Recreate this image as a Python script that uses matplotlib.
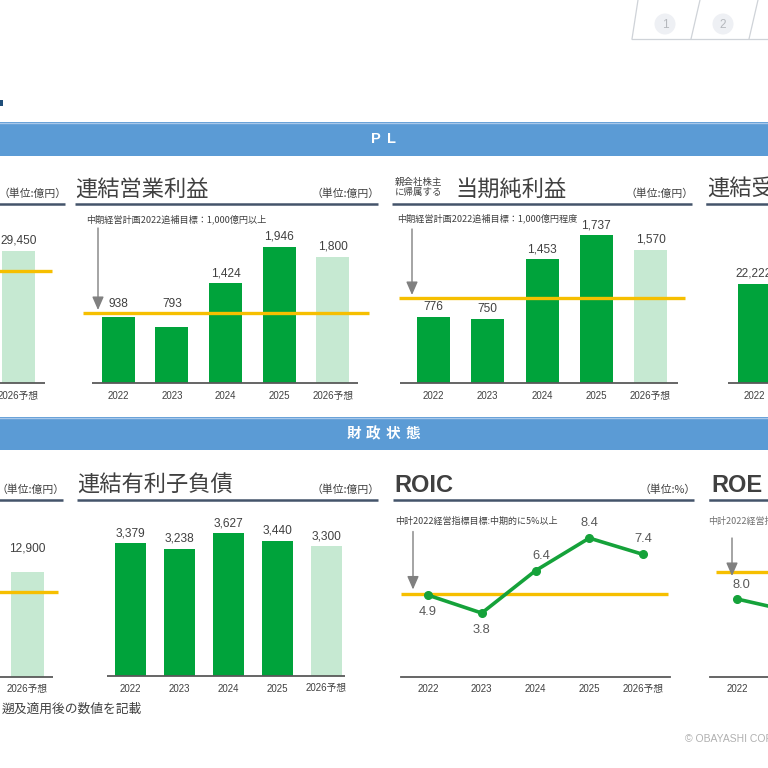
import matplotlib
matplotlib.use('Agg')
import matplotlib.pyplot as plt
from matplotlib.patches import Rectangle, Circle

# ---------------- data ----------------
years = ['2022', '2023', '2024', '2025', '2026予想']
is_forecast = [False, False, False, False, True]

revenue_cats = ['2026予想']
revenue_vals = [29450]
revenue_target = 25000

op_income = [938, 793, 1424, 1946, 1800]
op_target = 1000

net_income = [776, 750, 1453, 1737, 1570]
net_target = 1000

orders_cats = ['2022']
orders_vals = [22222]

equity_cats = ['2026予想']
equity_vals = [12900]
equity_target = 10500

debt = [3379, 3238, 3627, 3440, 3300]

roic = [4.9, 3.8, 6.4, 8.4, 7.4]
roic_target = 5.0

roe_cats = ['2022', '2023']
roe_vals = [8.0, 7.1]
roe_target = 10.0

# ---------------- style ----------------
W = H = 768
SANS = ['Liberation Sans', 'Noto Sans CJK JP']
JP = ['Noto Sans CJK JP', 'Liberation Sans']
plt.rcParams['font.family'] = SANS

DARK_G = '#00a33b'
LIGHT_G = '#c6e9d2'
LINE_G = '#15a23a'
YEL = '#f6bf00'
TXT = '#404040'
NAVY = '#44546a'
HDR = '#5b9bd5'
BASE = '#595959'
ARROW = '#808080'

fig = plt.figure(figsize=(W / 100, H / 100), dpi=100)
fig.patch.set_facecolor('white')

bg = fig.add_axes([0, 0, 1, 1], zorder=0)
bg.set_xlim(0, W)
bg.set_ylim(H, 0)
bg.axis('off')


def make_ax(x0, x1, yt, yb):
    ax = fig.add_axes([x0 / W, 1 - yb / H, (x1 - x0) / W, (yb - yt) / H], zorder=2)
    ax.patch.set_alpha(0)
    ax.axis('off')
    return ax


def arrow_to(ax, xd, yd, length_px):
    ax.annotate('', xy=(xd, yd), xytext=(0, length_px * 0.72), textcoords='offset points',
                xycoords='data',
                arrowprops=dict(arrowstyle='-|>,head_length=0.8,head_width=0.35', color=ARROW,
                                lw=1.0, mutation_scale=10, shrinkA=0, shrinkB=0),
                annotation_clip=False, zorder=5)


def bar_panel(cats, vals, flags, c0, s, k, yb, x0, x1, base, width_px,
              target=None, tline=None, label_gap=3, arrow=None, label_floor=None,
              fmt='{:,}'):
    yt = yb - 160
    ax = make_ax(x0, x1, yt, yb)
    ax.set_xlim((x0 - c0) / s, (x1 - c0) / s)
    ax.set_ylim(0, (yb - yt) / k)
    pos = list(range(len(cats)))
    cols = [LIGHT_G if f else DARK_G for f in flags]
    ax.bar(pos, vals, width=width_px / s, color=cols, zorder=2, clip_on=False)
    ax.plot([(base[0] - c0) / s, (base[1] - c0) / s], [0, 0], color=BASE, lw=1.3,
            clip_on=False, zorder=3, solid_capstyle='butt')
    if target is not None:
        ax.plot([(tline[0] - c0) / s, (tline[1] - c0) / s], [target, target], color=YEL,
                lw=2.4, clip_on=False, zorder=4, solid_capstyle='butt')
    for p, v in zip(pos, vals):
        anchor, gap = v, label_gap
        if label_floor is not None and v < label_floor:
            anchor, gap = label_floor, 2.0
        ax.annotate(fmt.format(v), (p, anchor), xytext=(0, gap), textcoords='offset points',
                    ha='center', va='bottom', fontsize=8.6, color=TXT, annotation_clip=False)
    for p, c in zip(pos, cats):
        ax.annotate(c, (p, 0), xytext=(0, -9), textcoords='offset points', ha='center',
                    va='center', fontsize=7, color=TXT, family=SANS, annotation_clip=False)
    if arrow is not None and target is not None:
        ax_px, length = arrow
        arrow_to(ax, (ax_px - c0) / s, target + 3 / k, length)
    return ax


# ---------------- page decorations ----------------
# top-right tabs
for xb, xt in [(632, 638), (691, 700), (749, 758)]:
    bg.plot([xb, xt], [39, 0], color='#cfd3d8', lw=0.9)
bg.plot([632, 768], [39, 39], color='#cfd3d8', lw=0.9)
for cx, t in [(665, '1'), (723, '2')]:
    bg.add_patch(Circle((cx, 24), 10.5, facecolor='#eef0f4', edgecolor='none'))
    bg.text(cx, 24.5, t, ha='center', va='center', fontsize=8.5, color='#b5b8bd')

bg.add_patch(Rectangle((0, 100), 3, 6, facecolor='#1f4e79', edgecolor='none'))

# section headers
bg.add_patch(Rectangle((0, 122), W, 34, facecolor=HDR, edgecolor='none'))
bg.plot([0, W], [122.5, 122.5], color='#a9c8ea', lw=1)
for cx, ch in [(376, 'P'), (391, 'L')]:
    bg.text(cx, 139, ch, ha='center', va='center', fontsize=10.5, color='white',
            fontweight='bold')
bg.add_patch(Rectangle((0, 417), W, 33, facecolor=HDR, edgecolor='none'))
bg.plot([0, W], [417.5, 417.5], color='#a9c8ea', lw=1)
for i, ch in enumerate('財政状態'):
    bg.text(354 + i * 19.5, 433, ch, ha='center', va='center', fontsize=10.5, color='white',
            family=JP, fontweight='bold')


# titles, units, underlines
def title_block(x_left, x_right, y_line, y_title, title, unit, bold_latin=False,
                title_x=None):
    bg.plot([x_left, x_right], [y_line, y_line], color=NAVY, lw=1.8, solid_capstyle='butt')
    tx = x_left if title_x is None else title_x
    if title:
        if bold_latin:
            bg.text(tx + 1, y_title, title, ha='left', va='center', fontsize=17,
                    color=TXT, fontweight='bold', family=SANS)
        else:
            bg.text(tx, y_title, title, ha='left', va='center', fontsize=16,
                    color=TXT, family=JP)
    if unit:
        bg.text(x_right + 2, y_line - 10, unit, ha='right', va='center', fontsize=7.8,
                color=TXT, family=JP)


title_block(-10, 65, 204, 190, None, '（単位:億円）')
title_block(75, 378, 204, 189, '連結営業利益', '（単位:億円）')
title_block(392, 692, 204, 189, '当期純利益', '（単位:億円）', title_x=455)
bg.text(395, 187.5, '親会社株主\nに帰属する', ha='left', va='center', fontsize=6.8,
        color=TXT, family=JP, linespacing=1.25)
bg.plot([707, 790], [204, 204], color=NAVY, lw=1.8)
bg.text(707, 189, '連結受注高', ha='left', va='center', fontsize=16, color=TXT, family=JP)

title_block(-10, 63, 500, 486, None, '（単位:億円）')
title_block(77, 378, 500, 485, '連結有利子負債', '（単位:億円）')
title_block(393, 694, 500, 485, 'ROIC', '（単位:%）', bold_latin=True)
bg.plot([710, 790], [500, 500], color=NAVY, lw=1.8)
bg.text(711, 485, 'ROE', ha='left', va='center', fontsize=17, color=TXT,
        fontweight='bold')

# annotation texts
bg.text(86, 219, '中期経営計画2022追補目標：1,000億円以上', ha='left', va='center',
        fontsize=6.6, color=TXT, family=JP)
bg.text(397, 218, '中期経営計画2022追補目標：1,000億円程度', ha='left', va='center',
        fontsize=6.6, color=TXT, family=JP)
bg.text(395, 521, '中計2022経営指標目標:中期的に5%以上', ha='left', va='center',
        fontsize=6.5, color=TXT, family=JP)
bg.text(708, 521, '中計2022経営指標目標:中期的に10%以上', ha='left', va='center',
        fontsize=6.5, color='#707070', family=JP)

bg.text(2, 709, '遡及適用後の数値を記載', ha='left', va='center', fontsize=9.2,
        color=TXT, family=JP)
bg.text(685, 739, '© OBAYASHI CORPORATION', ha='left', va='center', fontsize=7.5,
        color='#b0b0b0')

# ---------------- charts ----------------
# top row
bar_panel(revenue_cats, revenue_vals, [True], c0=18.5, s=54, k=0.00448, yb=383,
          x0=-40, x1=60, base=(-10, 45), width_px=33, target=revenue_target,
          tline=(-10, 52))
bar_panel(years, op_income, is_forecast, c0=118.3, s=53.6, k=0.0700, yb=383,
          x0=92, x1=358, base=(92, 358), width_px=33, target=op_target,
          tline=(83, 369), arrow=(98, 82), label_floor=op_target)
bar_panel(years, net_income, is_forecast, c0=433.5, s=54.25, k=0.085, yb=383,
          x0=400, x1=678, base=(400, 678), width_px=33, target=net_target,
          tline=(399, 685), arrow=(412, 66))
bar_panel(orders_cats, orders_vals, [False], c0=754, s=54, k=0.00445, yb=383,
          x0=728, x1=800, base=(728, 800), width_px=33)

# bottom row
bar_panel(equity_cats, equity_vals, [True], c0=27, s=54, k=0.00809, yb=676.5,
          x0=-40, x1=60, base=(-10, 53), width_px=33, target=equity_target,
          tline=(-10, 58), label_gap=13)
bar_panel(years, debt, is_forecast, c0=130.5, s=49, k=0.0393, yb=676,
          x0=107, x1=345, base=(107, 345), width_px=31)

# ROIC line chart
c0, s, k = 428, 53.75, 16.3
yb, yt = 677, 505
ax = make_ax(401, 670, yt, yb)
ymin = -(yb - 675) / k
ax.set_xlim((401 - c0) / s, (670 - c0) / s)
ax.set_ylim(ymin, ymin + (yb - yt) / k)
xs = list(range(len(roic)))
ax.plot([(401 - c0) / s, (670 - c0) / s], [ymin, ymin], color=BASE, lw=1.3, clip_on=False)
ax.plot([(401 - c0) / s, (668 - c0) / s], [roic_target] * 2, color=YEL, lw=2.4,
        clip_on=False, zorder=3, solid_capstyle='butt')
ax.plot(xs, roic, color=LINE_G, lw=2.6, marker='o', markersize=5.5, zorder=4, clip_on=False)
label_dx = [0, 0, 6, 0, 0]
for x, v, dx in zip(xs, roic, label_dx):
    below = v < roic_target
    ax.annotate(f'{v:.1f}', (x, v), xytext=(dx * 0.72, -8 if below else 6.5),
                textcoords='offset points', ha='center', va='top' if below else 'bottom',
                fontsize=9.3, color='#595959', annotation_clip=False, zorder=5)
for x, c in zip(xs, years):
    ax.annotate(c, (x, ymin), xytext=(0, -8.5), textcoords='offset points', ha='center',
                va='center', fontsize=7, color=TXT, annotation_clip=False)
arrow_to(ax, (413 - c0) / s, roic_target + 4 / k, 58)

# ROE line chart (partially visible)
c0, s = 737, 53.75
k = 13.5
yb, yt = 677, 505
ax2 = make_ax(710, 850, yt, yb)
ymin = 8.0 - (yb - 599) / k
ax2.set_xlim((710 - c0) / s, (850 - c0) / s)
ax2.set_ylim(ymin, ymin + (yb - yt) / k)
xs2 = list(range(len(roe_vals)))
ax2.plot([(710 - c0) / s, (850 - c0) / s], [ymin, ymin], color=BASE, lw=1.3, clip_on=False)
ax2.plot([(716 - c0) / s, (850 - c0) / s], [roe_target] * 2, color=YEL, lw=2.4,
         clip_on=False, zorder=3, solid_capstyle='butt')
ax2.plot(xs2, roe_vals, color=LINE_G, lw=2.6, marker='o', markersize=5.5, zorder=4,
         clip_on=False)
for x, v in zip(xs2, roe_vals):
    ax2.annotate(f'{v:.1f}', (x, v), xytext=(3.5, 5.5), textcoords='offset points',
                 ha='center', va='bottom', fontsize=9.3, color='#595959',
                 annotation_clip=False)
for x, c in zip(xs2, roe_cats):
    ax2.annotate(c, (x, ymin), xytext=(0, -8.5), textcoords='offset points', ha='center',
                 va='center', fontsize=7, color=TXT, annotation_clip=False)
arrow_to(ax2, (732 - c0) / s, roe_target - 4 / k, 38)

fig.savefig('out.png', dpi=100, facecolor='white')
